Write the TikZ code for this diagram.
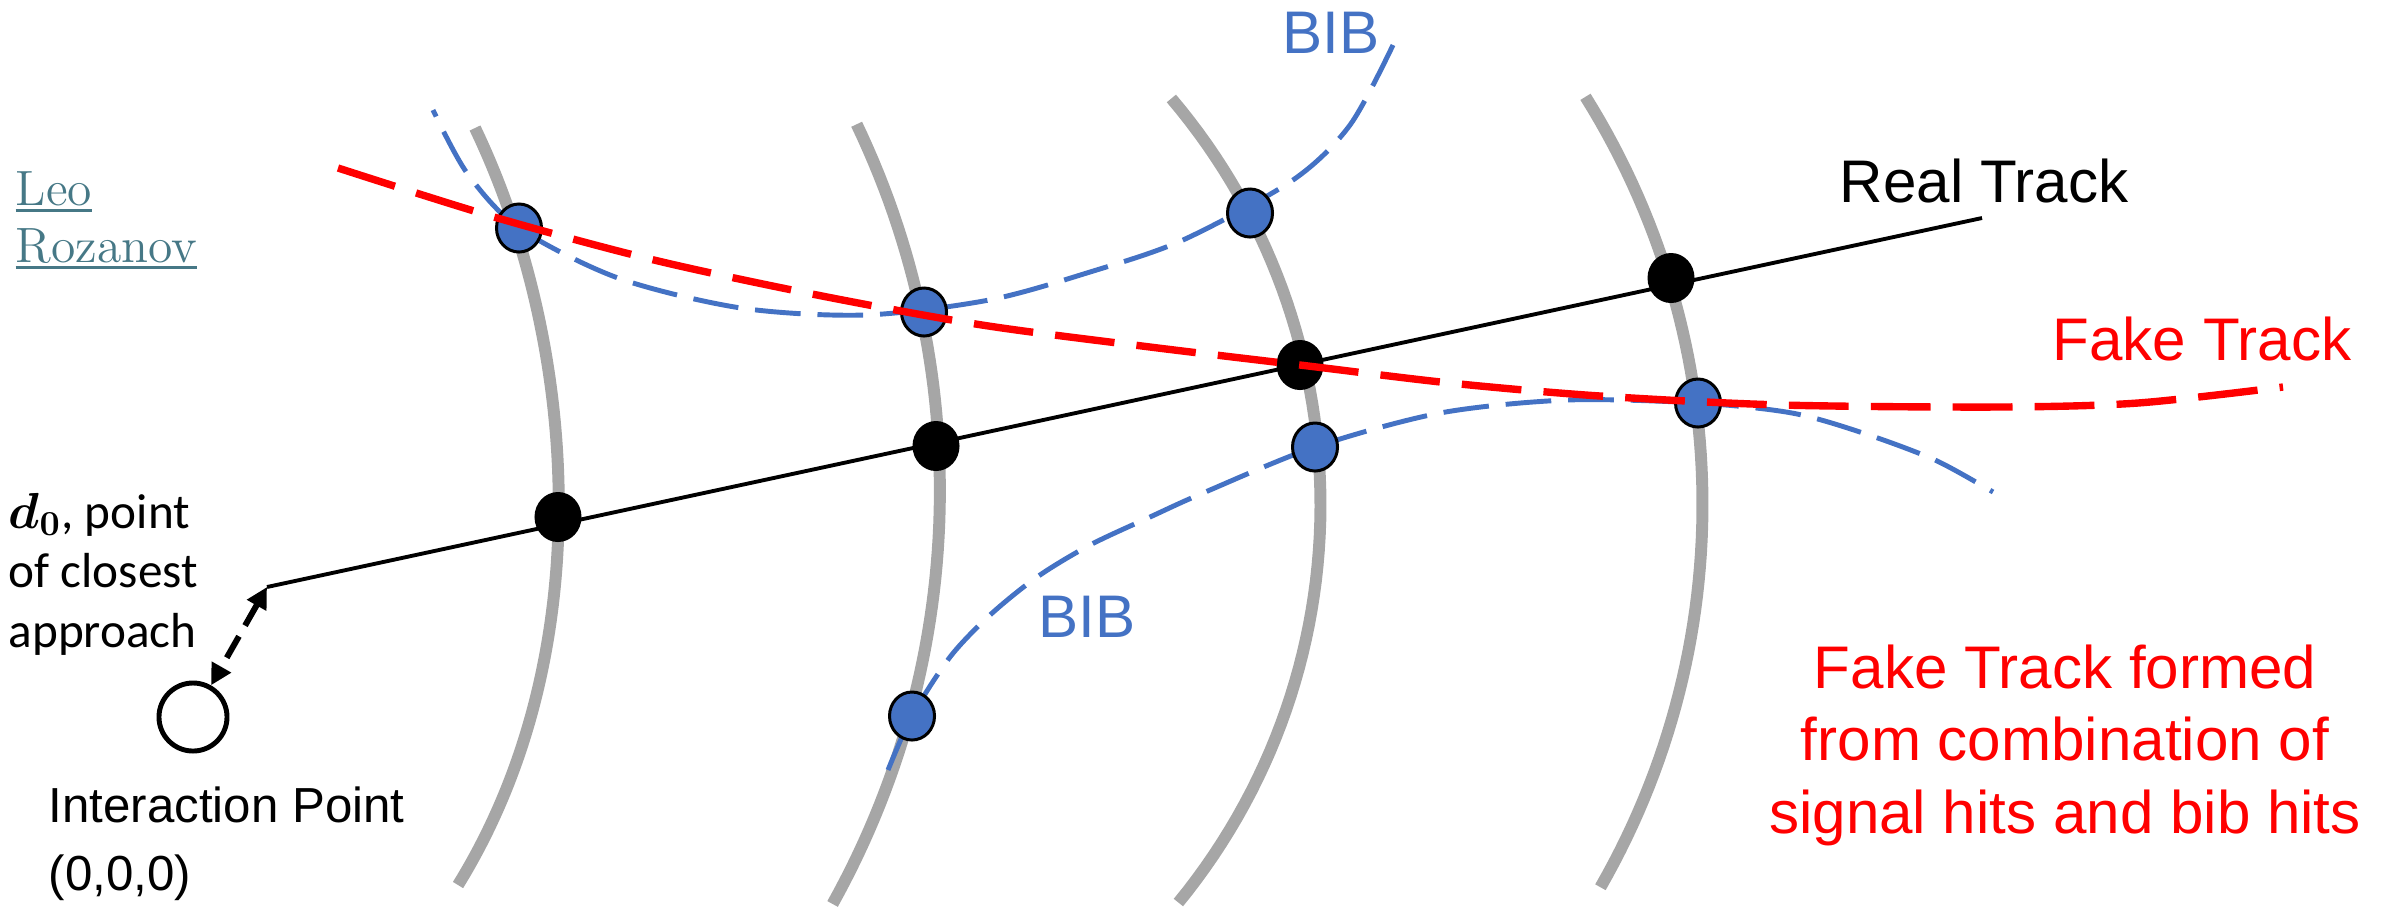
\documentclass[tikz,border=0pt]{standalone}
\usepackage{fontspec}
\usepackage{bm}
\newfontfamily\arialf{Liberation Sans}
\newfontfamily\calibf{Carlito}
\usetikzlibrary{shapes.geometric,arrows.meta}
\definecolor{bibblue}{HTML}{4472C4}
\definecolor{layergray}{HTML}{A6A6A6}
\definecolor{linkteal}{HTML}{467886}
\definecolor{fakered}{HTML}{FF0000}
\newcommand\linkul[1]{\setbox0\hbox{#1}\rlap{\rule[-2.1pt]{\wd0}{0.85pt}}\box0}
\begin{document}
\begin{tikzpicture}[x=0.01cm,y=-0.01cm,
  layer/.style={draw=layergray,line width=3.4pt},
  bibline/.style={draw=bibblue,line width=1.4pt,dash pattern=on 13pt off 4.8pt},
  fakeline/.style={draw=fakered,line width=2.1pt,dash pattern=on 17pt off 6.3pt},
  trackline/.style={draw=black,line width=1.1pt},
  sighit/.style={ellipse,fill=black,minimum width=0.47cm,minimum height=0.5cm,inner sep=0pt},
  bibhit/.style={ellipse,draw=black,line width=0.85pt,fill=bibblue,minimum width=0.45cm,minimum height=0.48cm,inner sep=0pt},
  bigtxt/.style={font=\arialf\fontsize{17.1}{20.5}\selectfont,inner sep=0pt},
  d0arrow/.style={line width=1.7pt,dash pattern=on 7pt off 3.5pt,{Triangle[length=6pt,width=6pt]}-{Triangle[length=6pt,width=6pt]}}
]
\useasboundingbox (0,0) rectangle (2389,911);

% detector layers
\draw[layer] (475,128) .. controls (578,343) and (601,653) .. (458,885);
\draw[layer] plot[domain=-25.58:29.12,samples=60] ({90.9+849*cos(\x)},{490.8+849*sin(\x)});
\draw[layer] plot[domain=-40.31:39.31,samples=60] ({692.5+628*cos(\x)},{504.7+628*sin(\x)});
\draw[layer] plot[domain=-32.04:29.87,samples=60] ({934+768.5*cos(\x)},{504.5+768.5*sin(\x)});

% BIB curves
\draw[bibline] plot[smooth] coordinates {(1393,45) (1350,125) (1293,180) (1183,240) (1090,272) (989,300) (865,315) (741,308) (618,278) (519,228) (467,173) (433,110)};
\draw[bibline] plot[smooth] coordinates {(888,770) (912,716) (950,657) (990,615) (1037,577) (1090,545) (1150,517) (1203,493) (1315,447) (1440,413) (1567,400) (1698,403) (1792,413) (1863,433) (1935,460) (1993,492)};

% real track
\coordinate (d0) at (267,587);
\coordinate (rtend) at (1982,218);
\draw[trackline] (d0) -- (rtend);

% interaction point
\node[draw,circle,line width=1.4pt,minimum size=0.68cm,inner sep=0pt] (ip) at (193,717) {};
\draw[d0arrow] (d0) -- (ip);

% hits
\node[sighit] (s1) at (558,517) {};
\node[sighit] (s2) at (936,446) {};
\node[sighit] (s3) at (1300,365) {};
\node[sighit] (s4) at (1671,278) {};
\node[bibhit] (u1) at (519,228) {};
\node[bibhit] (u2) at (924,312) {};
\node[bibhit] (u3) at (1250,213) {};
\node[bibhit] (l1) at (912,716) {};
\node[bibhit] (l2) at (1315,447) {};
\node[bibhit] (l3) at (1698,403) {};

% fake track
\draw[fakeline] plot[smooth] coordinates {(338,168) (494,217) (654,260) (817,295) (982,325) (1150,347) (1300,365) (1450,383) (1600,396) (1782,405) (2000,407) (2138,403) (2283,387)};

% labels
\node[bigtxt,anchor=base west] (rtlabel) at (1839,202) {Real Track};
\node[bigtxt,text=fakered,anchor=base west] (ftlabel) at (2052,360) {Fake Track};
\node[bigtxt,text=fakered,align=center,anchor=base] (expl) at (2065,833) {Fake Track formed\\from combination of\\signal hits and bib hits};
\node[bigtxt,text=bibblue,anchor=base west] (bibtop) at (1282,53) {BIB};
\node[bigtxt,text=bibblue,anchor=base west] (biblow) at (1038,637) {BIB};
\node[font=\calibf\fontsize{14}{16.9}\selectfont,align=left,anchor=base west,inner sep=0pt] (d0label) at (8,647) {$\bm{d_0}$, point\\of closest\\approach};
\node[font=\arialf\fontsize{14}{19.3}\selectfont,align=left,anchor=base west,inner sep=0pt] (iplabel) at (48,890) {Interaction Point\\(0,0,0)};
\node[font=\fontsize{14.1}{16.2}\selectfont,text=linkteal,align=left,anchor=base west,inner sep=0pt] (author) at (15,262) {\linkul{Leo}\\\linkul{Rozanov}};
\end{tikzpicture}
\end{document}
